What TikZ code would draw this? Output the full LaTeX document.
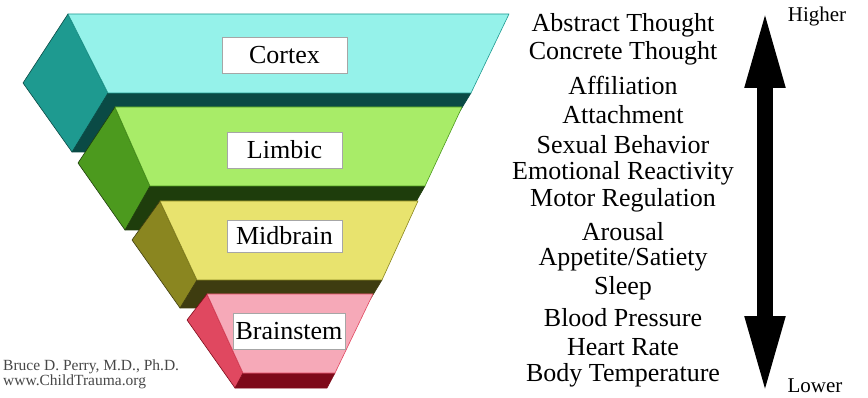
\documentclass[tikz,border=0pt]{standalone}
\usepackage{fontspec}
\setmainfont{Liberation Serif}
\usepackage{tikz}
\usetikzlibrary{arrows.meta,positioning}

\definecolor{cortexF}{HTML}{95F2EA}
\definecolor{cortexS}{HTML}{1E9A90}
\definecolor{cortexD}{HTML}{0A4A45}
\definecolor{limbicF}{HTML}{A8EC68}
\definecolor{limbicS}{HTML}{4C9A1E}
\definecolor{limbicD}{HTML}{1E3D0C}
\definecolor{midF}{HTML}{E8E36E}
\definecolor{midS}{HTML}{8A8620}
\definecolor{midD}{HTML}{3E3C10}
\definecolor{stemF}{HTML}{F6A9B8}
\definecolor{stemS}{HTML}{E04860}
\definecolor{stemD}{HTML}{7E0A1A}

\begin{document}
\begin{tikzpicture}[x=1pt, y=-1pt,
  face/.style={line width=0.6pt, line join=round},
  partbox/.style={draw=gray!70, fill=white, line width=0.5pt, inner sep=0pt,
    minimum height=36pt, font=\fontsize{26}{28}\selectfont},
  item/.style={inner sep=0pt, font=\fontsize{26}{28}\selectfont},
  endtext/.style={inner sep=0pt, font=\fontsize{21}{23}\selectfont},
  credit/.style={inner sep=0pt, anchor=west, text=black!72, font=\fontsize{15.5}{16}\selectfont},
  bigarrow/.style={{Triangle[length=80pt,width=36pt]}-{Triangle[length=80pt,width=36pt]}, line width=16pt}
]
\useasboundingbox (0,0) rectangle (868,398);

% --------- CORTEX ----------
\fill[face, cortexD, draw=cortexD] (108,93) -- (471,93) -- (435,152) -- (72,152) -- cycle;
\filldraw[face, fill=cortexS, draw=cortexD] (68,14) -- (23,83) -- (72,152) -- (108,93) -- cycle;
\filldraw[face, fill=cortexF, draw=cortexS] (68,14) -- (509,14) -- (471,93) -- (108,93) -- cycle;
\node[partbox, minimum width=125pt] (cortex) at (284.5,55) {Cortex};

% --------- LIMBIC ----------
\fill[face, limbicD, draw=limbicD] (150,186) -- (425,186) -- (400,230) -- (125,230) -- cycle;
\filldraw[face, fill=limbicS, draw=limbicD] (115,107) -- (78,163) -- (125,230) -- (150,186) -- cycle;
\filldraw[face, fill=limbicF, draw=limbicS] (115,107) -- (462,107) -- (425,186) -- (150,186) -- cycle;
\node[partbox, minimum width=115pt] (limbic) at (284.5,150) {Limbic};

% --------- MIDBRAIN ----------
\fill[face, midD, draw=midD] (197,280) -- (382,280) -- (365,308) -- (180,308) -- cycle;
\filldraw[face, fill=midS, draw=midD] (160,201) -- (132,240) -- (180,308) -- (197,280) -- cycle;
\filldraw[face, fill=midF, draw=midS] (160,201) -- (418,201) -- (382,280) -- (197,280) -- cycle;
\node[partbox, minimum width=115pt, minimum height=32pt] (midbrain) at (284.5,236) {Midbrain};

% --------- BRAINSTEM ----------
\fill[face, stemD, draw=stemD] (243,373) -- (335,373) -- (327,388) -- (235,388) -- cycle;
\filldraw[face, fill=stemS, draw=stemD] (207,294) -- (187,320) -- (235,388) -- (243,373) -- cycle;
\filldraw[face, fill=stemF, draw=stemS] (207,294) -- (373,294) -- (335,373) -- (243,373) -- cycle;
\node[partbox, minimum width=112pt] (brainstem) at (289,331) {Brainstem};

% credit
\node[credit] (author) at (3,367) {Bruce D. Perry, M.D., Ph.D.};
\node[credit] (site) at (3,382) {www.ChildTrauma.org};

% --------- FUNCTIONS ----------
\node[item] (f1) at (623,25) {Abstract Thought};
\node[item] (f2) at (623,53) {Concrete Thought};
\node[item] (f3) at (623,85) {Affiliation};
\node[item] (f4) at (623,115) {Attachment};
\node[item] (f5) at (623,145) {Sexual Behavior};
\node[item] (f6) at (623,173) {Emotional Reactivity};
\node[item] (f7) at (623,200) {Motor Regulation};
\node[item] (f8) at (623,232) {Arousal};
\node[item] (f9) at (623,260) {Appetite/Satiety};
\node[item] (f10) at (623,288) {Sleep};
\node[item] (f11) at (623,318) {Blood Pressure};
\node[item] (f12) at (623,347) {Heart Rate};
\node[item] (f13) at (623,375) {Body Temperature};

% --------- SCALE ARROW ----------
\coordinate (hi) at (765,8);
\coordinate (lo) at (765,396);
\draw[bigarrow] (hi) -- (lo);
\node[endtext] (higher) at (817,16) {Higher};
\node[endtext] (lower) at (815,386) {Lower};

\end{tikzpicture}
\end{document}
